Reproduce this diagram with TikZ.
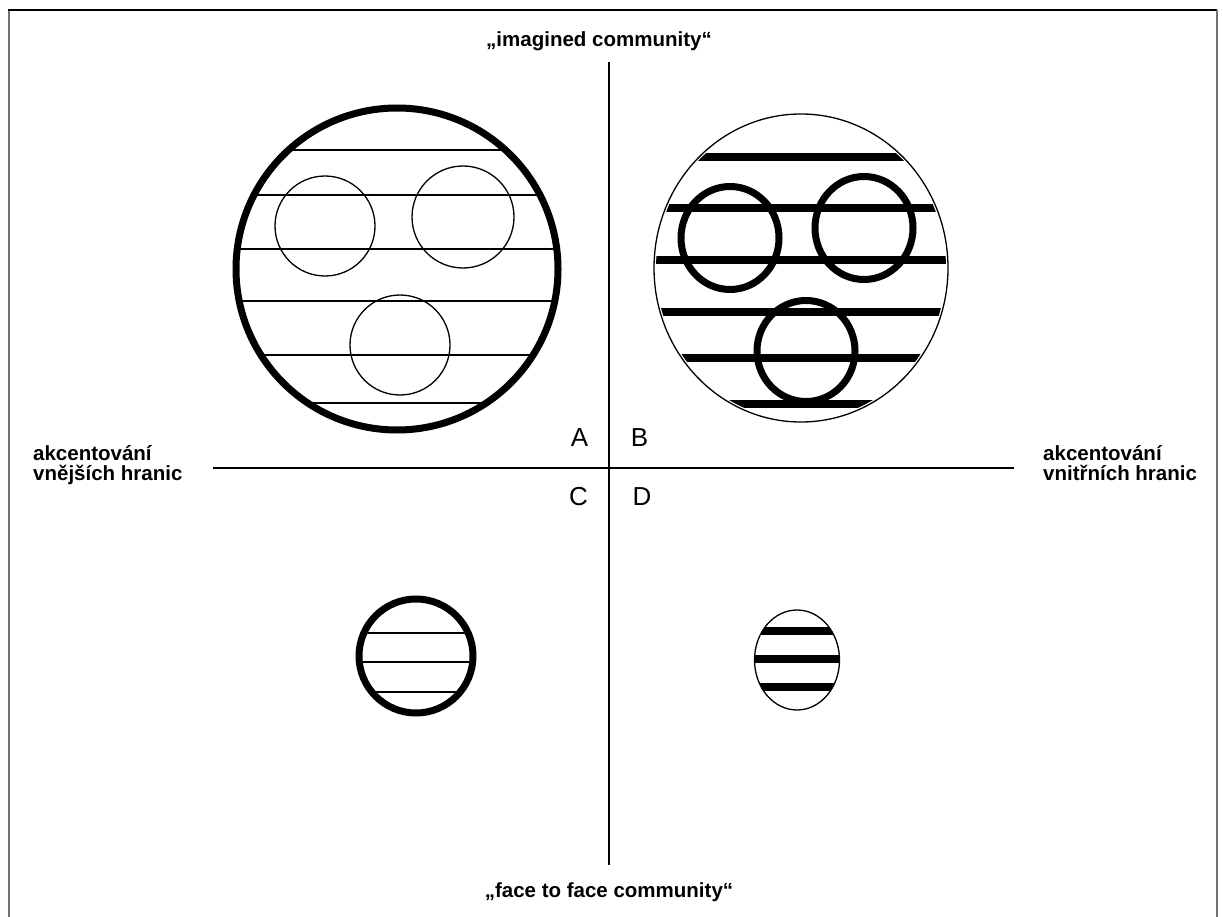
\documentclass[tikz,border=0pt]{standalone}
\usepackage{fontspec}
\setmainfont{Liberation Sans}
\tikzset{
  thinline/.style={line width=1.3pt},
  thickline/.style={line width=7pt},
  barline/.style={line width=8pt},
  axisline/.style={line width=1.5pt},
  sidelabel/.style={anchor=base west,inner sep=0pt,align=left,font=\fontsize{20.5}{20}\selectfont\bfseries},
  axislabel/.style={anchor=base,inner sep=0pt,font=\fontsize{20.5}{20}\selectfont\bfseries},
  quadlabel/.style={inner sep=0pt,font=\fontsize{26}{26}\selectfont}
}
\begin{document}
\begin{tikzpicture}[x=1pt,y=-1pt]
\useasboundingbox (0,0) rectangle (1223,917);
\fill[white] (0,0) rectangle (1223,917);

% frame
\draw[black!55,line width=2pt] (8.5,917) -- (8.5,10);
\draw[line width=1.5pt] (8,10) -- (1217,10);
\draw[black!55,line width=2pt] (1217,10) -- (1217,917);

% axes
\coordinate (top) at (609,62);
\coordinate (bottom) at (609,865);
\coordinate (left) at (213,468);
\coordinate (right) at (1014,468);
\draw[axisline] (top) -- (bottom);
\draw[axisline] (left) -- (right);

\node[axislabel] (imagined) at (599,47) {„imagined community“};
\node[axislabel] (facetoface) at (609,897) {„face to face community“};
\node[sidelabel] (outer) at (33,480) {akcentování\\vnějších hranic};
\node[sidelabel] (inner) at (1043,480) {akcentování\\vnitřních hranic};

\node[quadlabel] (qa) at (579.5,437.5) {A};
\node[quadlabel] (qb) at (639.5,437.5) {B};
\node[quadlabel] (qc) at (578.5,496.5) {C};
\node[quadlabel] (qd) at (642,496.5) {D};

% A: thick border, thin stripes and circles
\begin{scope}
\clip (397,269) circle[radius=164pt];
\foreach \y in {150,195,249,301,355,403}
  \draw[thinline] (200,\y) -- (600,\y);
\end{scope}
\draw[thinline] (325,226) circle[radius=50pt];
\draw[thinline] (463,217) circle[radius=51pt];
\draw[thinline] (400,345) circle[radius=50pt];
\draw[thickline] (397,269) circle[radius=161pt];

% B: thin border, thick stripes and circles
\begin{scope}
\clip (801,268) ellipse[x radius=145pt,y radius=152pt];
\foreach \y in {157,208,260,312,358,404}
  \draw[barline] (620,\y) -- (980,\y);
\end{scope}
\draw[thickline] (730,238) ellipse[x radius=49pt,y radius=51.5pt];
\draw[thickline] (864,228) ellipse[x radius=49pt,y radius=51.5pt];
\draw[thickline] (806,351) ellipse[x radius=49pt,y radius=50.5pt];
\draw[thinline] (801,268) ellipse[x radius=147pt,y radius=154pt];

% C
\begin{scope}
\clip (416,656) circle[radius=57pt];
\foreach \y in {633,662,692}
  \draw[thinline] (350,\y) -- (480,\y);
\end{scope}
\draw[thickline] (416,656) circle[radius=57pt];

% D
\begin{scope}
\clip (797,660) ellipse[x radius=42.5pt,y radius=50pt];
\foreach \y in {631,659,687}
  \draw[barline] (740,\y) -- (860,\y);
\end{scope}
\draw[thinline] (797,660) ellipse[x radius=42.5pt,y radius=50pt];
\end{tikzpicture}
\end{document}
